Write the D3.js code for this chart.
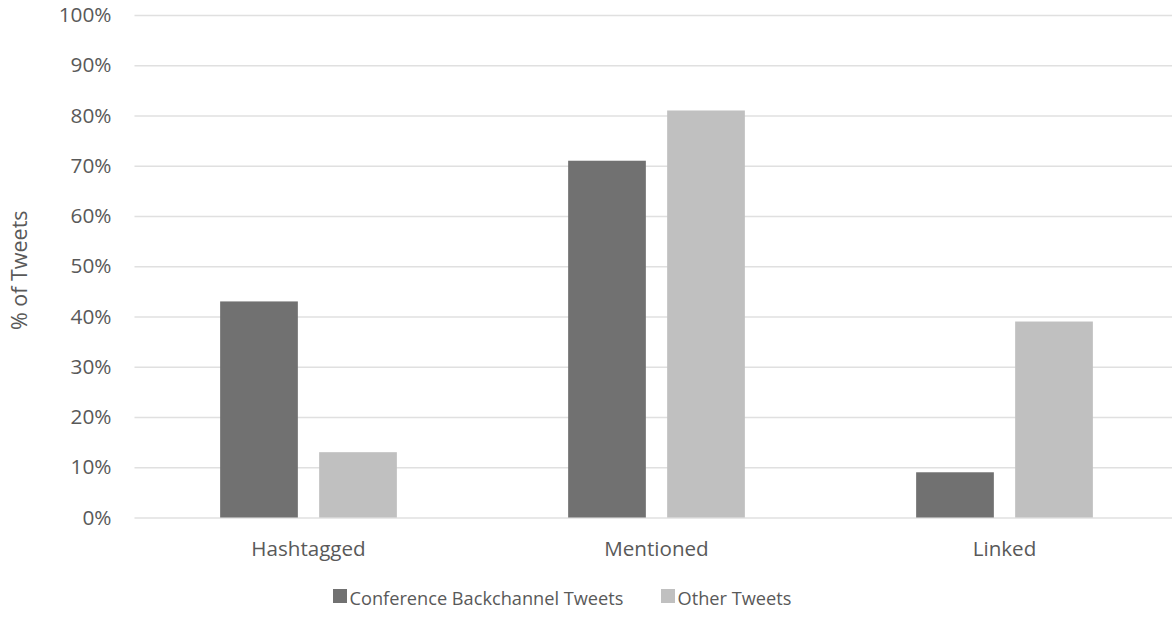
<!DOCTYPE html>
<html>
<head>
<meta charset="utf-8">
<script src="https://cdn.jsdelivr.net/npm/d3@7/dist/d3.min.js"></script>
<style>
  html, body { margin: 0; padding: 0; background: #fff; }
  svg { display: block; font-family: "Open Sans", sans-serif; }
</style>
</head>
<body>
<svg id="chart" width="1172" height="620"></svg>
<script>
// Share of tweets with each feature, by tweet group
const categories = ["Hashtagged", "Mentioned", "Linked"];
const seriesNames = ["Conference Backchannel Tweets", "Other Tweets"];
const backchannelValues = [0.43, 0.71, 0.09];
const otherValues = [0.13, 0.81, 0.39];
const yTicks = [0, 0.1, 0.2, 0.3, 0.4, 0.5, 0.6, 0.7, 0.8, 0.9, 1.0];
const seriesColors = ["#717171", "#c0c0c0"];

const svg = d3.select("#chart");
const textColor = "#595959";

const plot = { left: 134.5, right: 1178.5, top: 15, bottom: 517.5 };

const x0 = d3.scaleBand().domain(categories).range([plot.left, plot.right]).padding(0);
const x1 = d3.scaleBand().domain(seriesNames).range([0, x0.bandwidth()])
  .paddingInner(0.215).paddingOuter(0.865);
const y = d3.scaleLinear().domain([0, 1]).range([plot.bottom, plot.top]);

// Horizontal gridlines and percentage labels
const yAxis = d3.axisLeft(y).tickValues(yTicks).tickFormat(d3.format(".0%"))
  .tickSize(-(plot.right - plot.left)).tickPadding(23);
const gy = svg.append("g").attr("transform", `translate(${plot.left},0)`).call(yAxis);
gy.select(".domain").remove();
gy.selectAll(".tick line").attr("stroke", "#e0e0e0").attr("stroke-width", 1.5);
gy.selectAll(".tick text").attr("fill", textColor).attr("font-size", 20.8)
  .attr("font-family", "Open Sans, sans-serif");

// Bars
const rows = categories.map((c, i) => ({
  category: c,
  values: [
    { series: seriesNames[0], value: backchannelValues[i], color: seriesColors[0] },
    { series: seriesNames[1], value: otherValues[i], color: seriesColors[1] }
  ]
}));

svg.append("g").selectAll("g").data(rows).join("g")
  .attr("transform", d => `translate(${x0(d.category)},0)`)
  .selectAll("rect").data(d => d.values).join("rect")
  .attr("x", d => x1(d.series))
  .attr("width", x1.bandwidth())
  .attr("y", d => y(d.value))
  .attr("height", d => y(0) - y(d.value))
  .attr("fill", d => d.color);

// Category labels
const xAxis = d3.axisBottom(x0).tickSize(0).tickPadding(24);
const gx = svg.append("g").attr("transform", `translate(0,${plot.bottom})`).call(xAxis);
gx.select(".domain").remove();
gx.selectAll(".tick text").attr("fill", textColor).attr("font-size", 20.6)
  .attr("font-family", "Open Sans, sans-serif");

// Y axis title
svg.append("text")
  .attr("transform", `translate(27,${(plot.top + plot.bottom) / 2 + 4}) rotate(-90)`)
  .attr("text-anchor", "middle")
  .attr("fill", textColor)
  .attr("font-size", 21.5)
  .text("% of Tweets");

// Legend
const legendItems = [
  { name: seriesNames[0], color: seriesColors[0], x: 333 },
  { name: seriesNames[1], color: seriesColors[1], x: 661 }
];
const lg = svg.append("g").selectAll("g").data(legendItems).join("g")
  .attr("transform", d => `translate(${d.x},589)`);
lg.append("rect").attr("width", 14).attr("height", 14).attr("fill", d => d.color);
lg.append("text").attr("x", 16.5).attr("y", 15.5)
  .attr("fill", textColor).attr("font-size", 18.2).text(d => d.name);
</script>
</body>
</html>
